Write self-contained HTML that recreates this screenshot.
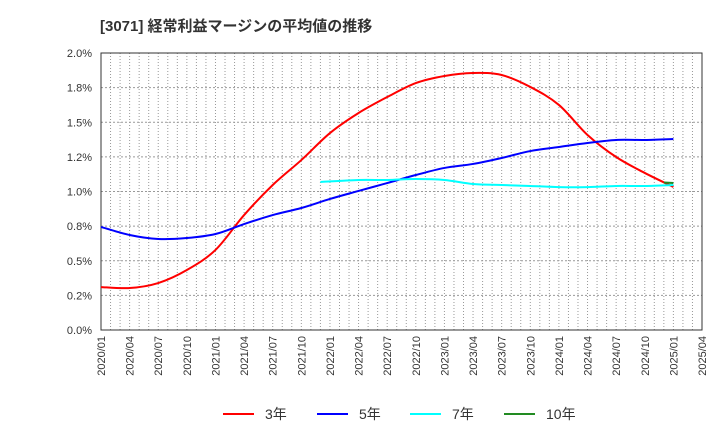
<!DOCTYPE html>
<html><head><meta charset="utf-8"><style>
body{margin:0;background:#fff;}
svg text{font-family:"Liberation Sans","Noto Sans CJK JP",sans-serif;fill:#333;}
</style></head><body>
<svg width="720" height="440" xmlns="http://www.w3.org/2000/svg">
<text x="100" y="31" font-size="15" font-weight="bold">[3071]  経常利益マージンの平均値の推移</text>
<g id="grid"></g><g id="axes"></g><g id="series"></g><g id="legend"></g>
</svg>
<script>
const yTicks=[0,0.25,0.5,0.75,1.0,1.25,1.5,1.75,2.0];
const yTickLabels=["0.0%","0.2%","0.5%","0.8%","1.0%","1.2%","1.5%","1.8%","2.0%"];
const xTickLabels=["2020/01","2020/04","2020/07","2020/10","2021/01","2021/04","2021/07","2021/10","2022/01","2022/04","2022/07","2022/10","2023/01","2023/04","2023/07","2023/10","2024/01","2024/04","2024/07","2024/10","2025/01","2025/04"];
// month index from 2020/01
const months3=[0,3,6,9,12,15,18,21,24,27,30,33,36,39,42,45,48,51,54,57,60];
const values3=[0.310,0.303,0.339,0.433,0.578,0.830,1.047,1.227,1.422,1.567,1.682,1.783,1.834,1.856,1.841,1.755,1.625,1.408,1.249,1.134,1.033];
const months5=[0,3,6,9,12,15,18,21,24,27,30,33,36,39,42,45,48,51,54,57,60];
const values5=[0.744,0.686,0.657,0.664,0.693,0.765,0.830,0.881,0.946,1.004,1.061,1.119,1.170,1.199,1.242,1.292,1.321,1.350,1.372,1.372,1.379];
const months7=[23,27,30,33,36,39,42,45,48,51,54,57,60];
const values7=[1.069,1.083,1.083,1.090,1.083,1.054,1.047,1.040,1.032,1.032,1.040,1.040,1.047];
const months10=[59,60];
const values10=[1.065,1.061];
const X0=101,X1=702,Y0=330,Y1=53,NM=63;
const xs=m=>X0+m*(X1-X0)/NM;
const ys=v=>Y0-v/2*(Y0-Y1);
const NS="http://www.w3.org/2000/svg";
function mk(tag,attrs,parent){const e=document.createElementNS(NS,tag);for(const k in attrs)e.setAttribute(k,attrs[k]);parent.appendChild(e);return e;}
const grid=document.getElementById('grid'),axes=document.getElementById('axes'),ser=document.getElementById('series'),leg=document.getElementById('legend');
mk('rect',{x:X0,y:Y1,width:X1-X0,height:Y0-Y1,fill:'#fff'},grid);
for(let m=1;m<NM;m++){const l=mk('line',{x1:xs(m),x2:xs(m),y1:Y1,y2:Y0,stroke:'#999','stroke-width':1,'stroke-dasharray':'1,2'},grid);

}
yTicks.forEach((t,i)=>{
 if(i>0&&i<yTicks.length-1){const l=mk('line',{x1:X0,x2:X1,y1:ys(t),y2:ys(t),stroke:'#999','stroke-width':1,'stroke-dasharray':'2,2'},grid);
 
 }
 const tx=mk('text',{x:92,y:ys(t)+4,'text-anchor':'end','font-size':11},axes);tx.textContent=yTickLabels[i];
 
 
});
xTickLabels.forEach((s,i)=>{const x=xs(i*3);
 const tx=mk('text',{x:0,y:0,'text-anchor':'end','font-size':11,transform:`translate(${x+4},336) rotate(-90)`},axes);tx.textContent=s;
 
 });
const fr=mk('rect',{x:X0,y:Y1,width:X1-X0,height:Y0-Y1,fill:'none',stroke:'#333','stroke-width':1},axes);


function path(ms,vs){const p=ms.map((m,i)=>[xs(m),ys(vs[i])]);let d=`M${p[0][0]},${p[0][1]}`;
 for(let i=0;i<p.length-1;i++){const a=p[Math.max(0,i-1)],b=p[i],c=p[i+1],e=p[Math.min(p.length-1,i+2)];
 d+=` C${b[0]+(c[0]-a[0])/6},${b[1]+(c[1]-a[1])/6} ${c[0]-(e[0]-b[0])/6},${c[1]-(e[1]-b[1])/6} ${c[0]},${c[1]}`;}return d;}
const S=[["3年",months3,values3,"#ff0000","line-3yr"],["5年",months5,values5,"#0000ff","line-5yr"],["7年",months7,values7,"#00ffff","line-7yr"],["10年",months10,values10,"#228b22","line-10yr"]];
S.forEach(s=>{const p=mk('path',{d:path(s[1],s[2]),fill:'none',stroke:s[3],'stroke-width':2},ser);
 
 });
const lx=[223,317,410,504];
S.forEach((s,i)=>{const g=mk('g',{},leg);
 
 
 mk('line',{x1:lx[i],x2:lx[i]+31,y1:414,y2:414,stroke:s[3],'stroke-width':2},g);
 const t=mk('text',{x:lx[i]+42,y:419,'font-size':14},g);t.textContent=s[0];});
</script>
</body></html>
